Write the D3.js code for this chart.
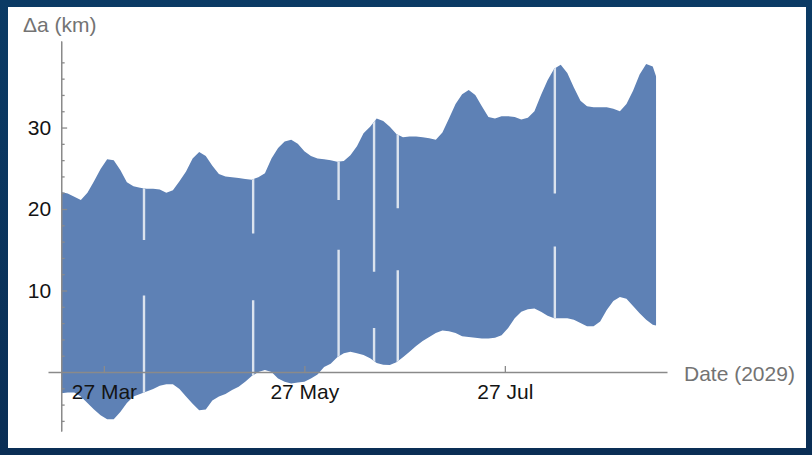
<!DOCTYPE html>
<html>
<head>
<meta charset="utf-8">
<script src="https://cdn.jsdelivr.net/npm/d3@7"></script>
<style>
  html, body { margin: 0; padding: 0; background: #0b3a63; }
  svg { display: block; }
</style>
</head>
<body>
<svg id="chart" width="812" height="455"></svg>
<script>
// Δa envelope: maximum and minimum of the orbit-to-orbit oscillation, sampled every two days (2029)
const dates = [
  "2029-03-14","2029-03-16","2029-03-18","2029-03-20","2029-03-22","2029-03-24","2029-03-26","2029-03-28",
  "2029-03-30","2029-04-01","2029-04-03","2029-04-05","2029-04-07","2029-04-09","2029-04-11","2029-04-13",
  "2029-04-15","2029-04-17","2029-04-19","2029-04-21","2029-04-23","2029-04-25","2029-04-27","2029-04-29",
  "2029-05-01","2029-05-03","2029-05-05","2029-05-07","2029-05-09","2029-05-11","2029-05-13","2029-05-15",
  "2029-05-17","2029-05-19","2029-05-21","2029-05-23","2029-05-25","2029-05-27","2029-05-29","2029-05-31",
  "2029-06-02","2029-06-04","2029-06-06","2029-06-08","2029-06-10","2029-06-12","2029-06-14","2029-06-16",
  "2029-06-18","2029-06-20","2029-06-22","2029-06-24","2029-06-26","2029-06-28","2029-06-30","2029-07-02",
  "2029-07-04","2029-07-06","2029-07-08","2029-07-10","2029-07-12","2029-07-14","2029-07-16","2029-07-18",
  "2029-07-20","2029-07-22","2029-07-24","2029-07-26","2029-07-28","2029-07-30","2029-08-01","2029-08-03",
  "2029-08-05","2029-08-07","2029-08-09","2029-08-11","2029-08-13","2029-08-15","2029-08-17","2029-08-19",
  "2029-08-21","2029-08-23","2029-08-25","2029-08-27","2029-08-29","2029-08-31","2029-09-02","2029-09-04",
  "2029-09-06","2029-09-08","2029-09-10","2029-09-11"
];
const upper = [
  22.1, 21.9, 21.5, 21.1, 22.0, 23.4, 24.9, 26.1,
  26.0, 24.8, 23.3, 22.8, 22.6, 22.5, 22.5, 22.4,
  22.0, 22.3, 23.4, 24.6, 26.2, 27.0, 26.5, 25.3,
  24.3, 24.0, 23.9, 23.8, 23.7, 23.6, 23.9, 24.4,
  26.2, 27.5, 28.3, 28.5, 28.0, 27.1, 26.5, 26.2,
  26.1, 26.0, 25.8, 25.9, 26.6, 27.7, 29.3, 30.1,
  31.1, 30.8, 30.1, 29.2, 28.8, 28.9, 28.9, 28.8,
  28.7, 28.5, 29.4, 31.1, 32.9, 34.1, 34.6, 34.0,
  32.6, 31.3, 31.1, 31.4, 31.4, 31.3, 31.0, 31.2,
  32.0, 34.0, 35.8, 37.2, 37.7, 36.7, 34.9, 33.3,
  32.6, 32.5, 32.5, 32.5, 32.3, 32.0, 32.9, 34.5,
  36.5, 37.8, 37.5, 36.3
];
const lower = [
  -2.6, -2.5, -2.5, -3.0, -3.8, -4.6, -5.3, -5.8,
  -5.8, -4.9, -3.8, -3.0, -2.7, -2.4, -2.1, -1.7,
  -1.5, -1.5, -2.1, -3.0, -3.9, -4.7, -4.6, -3.5,
  -3.0, -2.7, -2.2, -1.8, -1.2, -0.5, 0.0, 0.25,
  0.0, -0.8, -1.2, -1.4, -1.3, -1.2, -0.8, -0.3,
  0.6, 1.0, 1.8, 2.3, 2.5, 2.3, 2.1, 1.7,
  1.1, 0.9, 0.86, 1.2, 1.8, 2.5, 3.2, 3.8,
  4.3, 4.8, 5.1, 5.0, 4.8, 4.4, 4.3, 4.2,
  4.1, 4.1, 4.2, 4.5, 5.4, 6.6, 7.4, 7.7,
  7.8, 7.4, 6.9, 6.6, 6.6, 6.6, 6.4, 6.0,
  5.6, 5.6, 6.2, 7.6, 8.7, 9.2, 9.0, 8.1,
  7.2, 6.4, 5.8, 5.7
];

// Breaks in the record: the oscillation is missing above gapUpperTo and below gapLowerFrom (km)
const gapDates = ["2029-04-08T05:00","2029-05-11T10:00","2029-06-06T10:00","2029-06-17T05:00","2029-06-24T10:00","2029-08-11T05:00"];
const gapUpperTo = [16.2, 17.0, 21.1, 12.3, 20.1, 21.9];
const gapLowerFrom = [9.4, 8.8, 15.0, 5.4, 12.5, 15.4];

const xTickDates = ["2029-03-27","2029-05-27","2029-07-27"];
const xTickLabels = ["27 Mar","27 May","27 Jul"];
const yMajorTicks = [10, 20, 30];
const yMinorTicks = [-6, -4, -2, 2, 4, 6, 8, 12, 14, 16, 18, 22, 24, 26, 28, 32, 34, 36, 38];
const xRange = ["2029-03-10T00:00", "2029-09-14T08:00"];
const yRange = [-7.24, 40.62];

const parseDay = d3.utcParse("%Y-%m-%d");
const parseTime = d3.utcParse("%Y-%m-%dT%H:%M");

const series = dates.map((d, i) => ({ date: parseDay(d), hi: upper[i], lo: lower[i] }));
const gaps = gapDates.map((d, i) => ({ date: parseTime(d), a: gapUpperTo[i], b: gapLowerFrom[i] }));

const W = 812, H = 455;
const svg = d3.select("#chart");

// Frame and white plotting panel
const defs = svg.append("defs");
const grad = defs.append("linearGradient").attr("id", "frame").attr("x1", 0).attr("y1", 0).attr("x2", 0).attr("y2", 1);
grad.append("stop").attr("offset", "0%").attr("stop-color", "#0b3b65");
grad.append("stop").attr("offset", "100%").attr("stop-color", "#0a2e55");
svg.append("rect").attr("width", W).attr("height", H).attr("fill", "url(#frame)");
svg.append("rect").attr("x", 8).attr("y", 7).attr("width", 798).attr("height", 441).attr("fill", "#ffffff");

const x = d3.scaleUtc().domain(xRange.map(parseTime)).range([48, 667]);
const y = d3.scaleLinear().domain(yRange).range([431, 41]);

const band = d3.area()
  .x(d => x(d.date))
  .y0(d => y(d.lo))
  .y1(d => y(d.hi));

defs.append("clipPath").attr("id", "bandClip")
  .append("path").attr("d", band(series));

svg.append("path")
  .attr("d", band(series))
  .attr("fill", "#5e81b5");

// Breaks, limited to the band
const gapG = svg.append("g").attr("clip-path", "url(#bandClip)");
gaps.forEach(g => {
  const gx = x(g.date);
  gapG.append("line")
    .attr("x1", gx).attr("x2", gx)
    .attr("y1", y(yRange[1])).attr("y2", y(g.a))
    .attr("stroke", "#dbe3ee").attr("stroke-width", 2.4);
  gapG.append("line")
    .attr("x1", gx).attr("x2", gx)
    .attr("y1", y(g.b)).attr("y2", y(yRange[0]))
    .attr("stroke", "#dbe3ee").attr("stroke-width", 2.4);
});

const axisColor = "#8a8a8a";
const font = "'Liberation Sans', Arial, sans-serif";
const x0 = x(series[0].date);

// Y axis: inward ticks, labels on the left
const yMinor = svg.append("g")
  .attr("transform", `translate(${x0},0)`)
  .call(d3.axisLeft(y).tickValues(yMinorTicks).tickSize(-3.5).tickSizeOuter(0).tickFormat(""));
const yAxis = svg.append("g")
  .attr("transform", `translate(${x0},0)`)
  .call(d3.axisLeft(y).tickValues(yMajorTicks).tickSize(-6).tickSizeOuter(0).tickPadding(10));

// X axis through zero
const xAxis = svg.append("g")
  .attr("transform", `translate(0,${y(0)})`)
  .call(d3.axisBottom(x)
    .tickValues(xTickDates.map(parseDay))
    .tickFormat((d, i) => xTickLabels[i])
    .tickSize(-6).tickSizeOuter(0).tickPadding(12));

[yMinor, yAxis, xAxis].forEach(g => {
  g.selectAll("path, line").attr("stroke", axisColor).attr("stroke-width", 1.3);
  g.selectAll("text").attr("fill", "#141414").style("font-family", font).style("font-size", "21px");
});

// Axis titles
svg.append("text")
  .attr("x", 23).attr("y", 31.5)
  .attr("fill", "#737373")
  .style("font-family", font).style("font-size", "21px")
  .text("Δa (km)");
svg.append("text")
  .attr("x", 684).attr("y", 381)
  .attr("fill", "#737373")
  .style("font-family", font).style("font-size", "21px")
  .text("Date (2029)");
</script>
</body>
</html>
